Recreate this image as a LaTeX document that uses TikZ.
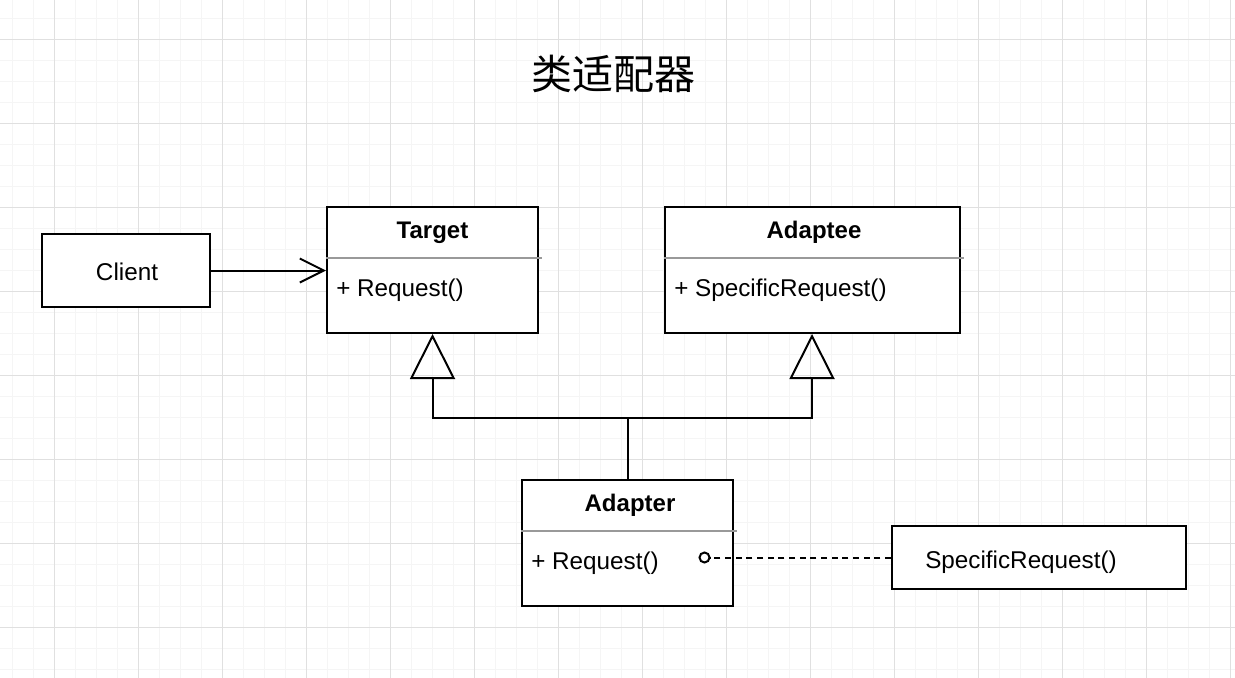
\documentclass[tikz,border=0pt]{standalone}
\usepackage{fontspec}
\setmainfont{Liberation Sans}
\newfontfamily\cjk{Noto Sans CJK SC}
\usetikzlibrary{arrows.meta,calc}

\begin{document}
\begin{tikzpicture}[
    x=0.75pt, y=-0.75pt,
    classbox/.style={draw, line width=1.5pt, fill=white, minimum width=#1, minimum height=94.5pt, inner sep=0pt},
    plainbox/.style 2 args={draw, line width=1.5pt, fill=white, minimum width=#1, minimum height=#2, inner sep=0pt},
    classname/.style={anchor=base, inner sep=0pt, font=\fontsize{18}{21}\selectfont\bfseries},
    member/.style={anchor=base west, inner sep=0pt, font=\fontsize{18.2}{21}\selectfont},
    sepline/.style={draw=black!40, line width=1.5pt},
    inherit/.style={line width=1.5pt, -{Triangle[open, length=33.75pt, width=33.75pt, line width=1.5pt]}},
    assoc/.style={line width=1.5pt, -{Straight Barb[length=18pt, width=18pt, line width=1.5pt]}},
    usedep/.style={line width=1.5pt, dash pattern=on 4.5pt off 3.5pt, -{Circle[open, length=9pt, width=9pt, line width=1.5pt]}}
]
    % canvas and grid
    \useasboundingbox (0,0) rectangle (1235,678);
    \fill[white] (0,0) rectangle (1235,678);
    \foreach \x in {12.3,33.3,...,1235} \draw[black!4, line width=0.75pt] (\x,0) -- (\x,678);
    \foreach \y in {18.3,39.3,...,678} \draw[black!4, line width=0.75pt] (0,\y) -- (1235,\y);
    \foreach \x in {54.3,138.3,...,1235} \draw[black!12, line width=0.75pt] (\x,0) -- (\x,678);
    \foreach \y in {39.3,123.3,...,678} \draw[black!12, line width=0.75pt] (0,\y) -- (1235,\y);

    \node[font=\cjk\fontsize{30.75}{36}\selectfont] (title) at (613.5,74) {类适配器};

    % classes
    \node[classbox=158.25pt] (target) at (432.5,270) {};
    \node[classname] (targetname) at (432.5,238.5) {Target};
    \node[member] (targetop) at (336,296) {+ Request()};
    \draw[sepline] ($(target.north west)+(0,52)$) -- ($(target.north east)+(3,52)$);

    \node[classbox=221.25pt] (adaptee) at (812,270) {};
    \node[classname] (adapteename) at (814,238.5) {Adaptee};
    \node[member] (adapteeop) at (674,296) {+ SpecificRequest()};
    \draw[sepline] ($(adaptee.north west)+(0,52)$) -- ($(adaptee.north east)+(3,52)$);

    \node[classbox=158.25pt] (adapter) at (627.5,543) {};
    \node[classname] (adaptername) at (630,511.5) {Adapter};
    \node[member] (adapterop) at (531,569) {+ Request()};
    \draw[sepline] ($(adapter.north west)+(0,52)$) -- ($(adapter.north east)+(3,52)$);

    \node[plainbox={126pt}{54.75pt}] (client) at (126,270.5) {};
    \node[member, anchor=base] (clientname) at (127,280) {Client};

    \node[plainbox={220.5pt}{47.25pt}] (specific) at (1039,557.5) {};
    \node[member] (specificname) at (925,568.5) {SpecificRequest()};

    % connectors
    \coordinate (joint) at (628,418);
    \coordinate (reqport) at (698.5,557.5);
    \draw[assoc] (client.east) -- (client.east -| target.west);
    \draw[line width=1.5pt] (adapter.north -| joint) -- (joint);
    \draw[inherit] (joint) -| (target.south);
    \draw[inherit] (joint) -| (adaptee.south);
    \draw[usedep] (reqport -| specific.west) -- (reqport);
\end{tikzpicture}
\end{document}
